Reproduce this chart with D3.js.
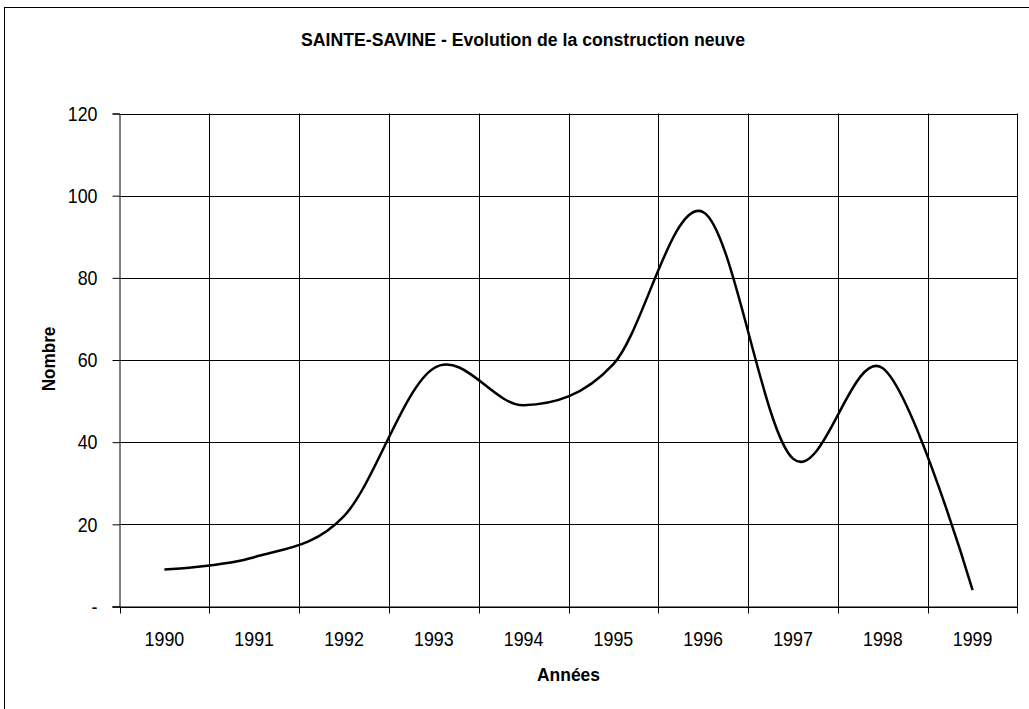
<!DOCTYPE html>
<html>
<head>
<meta charset="utf-8">
<script src="https://cdn.jsdelivr.net/npm/d3@7"></script>
<style>
  body { margin: 0; background: #fff; }
  svg text { font-family: "Liberation Sans Narrow", "Arial Narrow", "Liberation Sans", Arial, sans-serif; fill: #000; }
</style>
</head>
<body>
<div id="chart"></div>
<script>
var years = ["1990", "1991", "1992", "1993", "1994", "1995", "1996", "1997", "1998", "1999"];
var counts = [9, 12, 22, 58, 49, 59, 96, 36, 58, 4];
var yTicks = [0, 20, 40, 60, 80, 100, 120];

var width = 1029,
    height = 709;

var margin = {top: 113.5, right: 11.5, bottom: 102.5, left: 119.5};

// the reference uses a condensed face, squeeze regular text horizontally
var squeeze = 0.85;

var svg = d3.select("#chart")
    .append("svg")
    .attr("width", width)
    .attr("height", height);

// outer frame (right and bottom edges fall outside the picture)
svg.append("rect")
    .attr("x", 4.5)
    .attr("y", 7.5)
    .attr("width", width + 20)
    .attr("height", height + 20)
    .attr("fill", "none")
    .attr("stroke", "#000")
    .attr("stroke-width", 1);

var x = d3.scaleBand()
    .domain(years)
    .range([margin.left, width - margin.right])
    .padding(0);

var y = d3.scaleLinear()
    .domain([0, 120])
    .range([height - margin.bottom, margin.top]);

// horizontal grid
svg.append("g")
    .selectAll("line")
    .data(yTicks)
    .enter()
    .append("line")
    .attr("x1", margin.left)
    .attr("x2", width - margin.right)
    .attr("y1", function(d) { return Math.round(y(d)) + 0.5; })
    .attr("y2", function(d) { return Math.round(y(d)) + 0.5; })
    .attr("stroke", "#000")
    .attr("stroke-width", 1);

// vertical grid at band edges
svg.append("g")
    .selectAll("line")
    .data(years)
    .enter()
    .append("line")
    .attr("x1", function(d) { return Math.round(x(d) + x.bandwidth()) + 0.5; })
    .attr("x2", function(d) { return Math.round(x(d) + x.bandwidth()) + 0.5; })
    .attr("y1", margin.top)
    .attr("y2", height - margin.bottom)
    .attr("stroke", "#000")
    .attr("stroke-width", 1);

// y axis
var yAxis = d3.axisLeft(y)
    .tickValues(yTicks)
    .tickSize(7)
    .tickFormat(function(d) { return d === 0 ? "-" : d; });

var gy = svg.append("g")
    .attr("transform", "translate(" + margin.left + ",0)")
    .call(yAxis);
gy.select(".domain").attr("stroke", "#000");
gy.selectAll(".tick text")
    .attr("x", 0)
    .attr("font-size", "21px")
    .attr("transform", "translate(-22,0) scale(" + squeeze + ",1)");

// x axis: ticks on band edges, labels centered
var edges = [margin.left].concat(years.map(function(d) { return x(d) + x.bandwidth(); }));

var gx = svg.append("g");
gx.append("line")
    .attr("x1", margin.left - 7)
    .attr("x2", width - margin.right)
    .attr("y1", height - margin.bottom + 0.5)
    .attr("y2", height - margin.bottom + 0.5)
    .attr("stroke", "#000");
gx.selectAll(".edge")
    .data(edges)
    .enter()
    .append("line")
    .attr("class", "edge")
    .attr("x1", function(d) { return Math.round(d) + 0.5; })
    .attr("x2", function(d) { return Math.round(d) + 0.5; })
    .attr("y1", height - margin.bottom)
    .attr("y2", height - margin.bottom + 7)
    .attr("stroke", "#000");
gx.selectAll(".lbl")
    .data(years)
    .enter()
    .append("text")
    .attr("class", "lbl")
    .attr("transform", function(d) {
        return "translate(" + (x(d) + x.bandwidth() / 2) + "," + (height - margin.bottom + 39) + ") scale(" + squeeze + ",1)";
    })
    .attr("text-anchor", "middle")
    .attr("font-size", "21px")
    .text(function(d) { return d; });

// smoothed line through band centres
var line = d3.line()
    .x(function(d, i) { return x(years[i]) + x.bandwidth() / 2; })
    .y(function(d) { return y(d); })
    .curve(d3.curveCardinal.tension(0));

svg.append("path")
    .datum(counts)
    .attr("d", line)
    .attr("fill", "none")
    .attr("stroke", "#000")
    .attr("stroke-width", 2.5);

// titles
svg.append("text")
    .attr("transform", "translate(523,46) scale(0.93,1)")
    .attr("text-anchor", "middle")
    .attr("font-size", "19px")
    .attr("font-weight", "bold")
    .text("SAINTE-SAVINE - Evolution de la construction neuve");

svg.append("text")
    .attr("transform", "translate(" + ((margin.left + width - margin.right) / 2) + ",681) scale(0.92,1)")
    .attr("text-anchor", "middle")
    .attr("font-size", "19px")
    .attr("font-weight", "bold")
    .text("Années");

svg.append("text")
    .attr("transform", "translate(55," + ((margin.top + height - margin.bottom) / 2 - 1) + ") rotate(-90) scale(0.9,1)")
    .attr("text-anchor", "middle")
    .attr("font-size", "19px")
    .attr("font-weight", "bold")
    .text("Nombre");
</script>
</body>
</html>
